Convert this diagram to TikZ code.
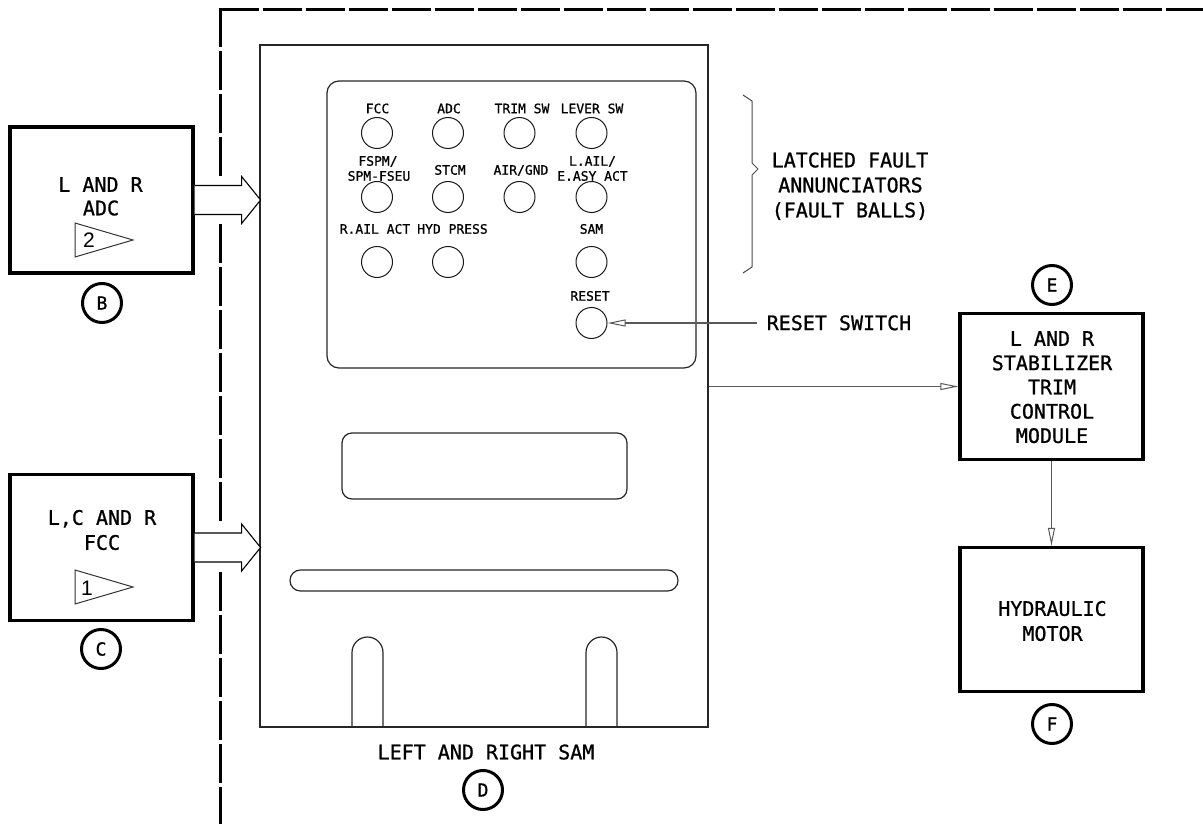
\documentclass[tikz,border=0pt]{standalone}
\usepackage{fontspec}
\setmainfont{DejaVu Sans Mono}[FakeBold=0.9]
\newfontfamily\numfont{Liberation Sans}
\usetikzlibrary{arrows.meta,calc}
\begin{document}
\begin{tikzpicture}[x=1pt,y=-1pt,
 box/.style={draw=black, line width=3.2pt, minimum width=183pt, inner sep=0pt},
 big/.style={font=\fontsize{20}{24}\selectfont, inner sep=0pt, anchor=base},
 small/.style={font=\fontsize{13}{15}\selectfont, inner sep=0pt, anchor=base},
 ball/.style={draw=black!90, circle, minimum size=31pt, inner sep=0pt, line width=1pt},
 refc/.style={draw=black, circle, line width=3pt, minimum size=39pt, inner sep=0pt, font=\fontsize{18}{18}\selectfont},
 outline/.style={draw=black!85, line width=1.2pt},
 conn/.style={draw=black!65, line width=1.1pt, -{Triangle[open, length=18pt, width=7pt, line width=1pt]}},
 hollow/.style={draw=black, line width=1.1pt, fill=white, line join=miter},
 flag/.style={draw=black!80, line width=1pt},
 border/.style={line width=3pt, dash pattern=on 39pt off 4pt},
]
\useasboundingbox (0,0) rectangle (1203,824);

% dashed boundary
\draw[border] (220,10) -- (1203,10);
\draw[border] (220,8.5) -- (220,178) (220,224) -- (220,524) (220,572) -- (220,824);

% SAM unit
\node[outline, minimum width=448pt, minimum height=682pt, inner sep=0pt] (sam) at (484,386) {};
\node[outline, rounded corners=12pt, minimum width=369pt, minimum height=287pt, inner sep=0pt] (panel) at (511.5,224.5) {};
\node[outline, rounded corners=10pt, minimum width=285pt, minimum height=66pt, inner sep=0pt] (display) at (484.5,466) {};
\node[outline, rounded corners=10.4pt, minimum width=388pt, minimum height=21pt, inner sep=0pt] (slot) at (484,580.5) {};
\draw[outline] (352,727) -- (352,652.5) arc[start angle=180, end angle=360, radius=15.5] -- (383,727);
\draw[outline] (586,727) -- (586,652.5) arc[start angle=180, end angle=360, radius=15.5] -- (617,727);

% fault balls
\node[ball] (bfcc) at (377,133) {};
\node[ball] (badc) at (448,133) {};
\node[ball] (btrim) at (519.5,133) {};
\node[ball] (blever) at (591.5,133) {};
\node[ball] (bfspm) at (377,197) {};
\node[ball] (bstcm) at (448,197) {};
\node[ball] (bair) at (519.5,197) {};
\node[ball] (blail) at (591.5,197) {};
\node[ball] (brail) at (377,262) {};
\node[ball] (bhyd) at (448,262) {};
\node[ball] (bsam) at (591.5,262) {};
\node[ball] (reset) at (591.5,323) {};

\node[small] (lfcc) at (377.5,113.2) {FCC};
\node[small] (ladc) at (449,113.2) {ADC};
\node[small] (ltrim) at (522,113.2) {TRIM SW};
\node[small] (llever) at (592,113.2) {LEVER SW};
\node[small] (lfspm1) at (378,165.7) {FSPM/};
\node[small] (lfspm2) at (379,180.7) {SPM-FSEU};
\node[small] (lstcm) at (450,174.7) {STCM};
\node[small] (lair) at (521,174.7) {AIR/GND};
\node[small] (llail1) at (592.5,165.7) {L.AIL/};
\node[small] (llail2) at (592.5,180.7) {E.ASY ACT};
\node[small] (lrail) at (375,233.7) {R.AIL ACT};
\node[small] (lhyd) at (452.5,233.7) {HYD PRESS};
\node[small] (lsam) at (591.5,233.7) {SAM};
\node[small] (lreset) at (590,300.7) {RESET};

\node[big] (samlbl) at (486,759.3) {LEFT AND RIGHT SAM};
\node[refc] (D) at (483,790) {D};

% brace and annunciator text
\draw[draw=black!70, line width=1pt] (743,95) -- (752,101) -- (752,163) -- (758,169) -- (752,175) -- (752,267) -- (743,273);
\node[big] (lf1) at (850,167.3) {LATCHED FAULT};
\node[big] (lf2) at (850.5,192.3) {ANNUNCIATORS};
\node[big] (lf3) at (850,217.3) {(FAULT BALLS)};

% reset switch
\node[big] (rsw) at (839,330.1) {RESET SWITCH};
\coordinate (rswend) at (757,323);
\draw[conn] (rswend) -- (reset.east);

% ADC box
\node[box, minimum height=146pt] (adcbox) at (101.5,200) {};
\node[big] (adc1) at (100.5,191.8) {L AND R};
\node[big] (adc2) at (101,215.3) {ADC};
\draw[flag] (75,223) -- (75,257) -- (133,240) -- cycle;
\node[font=\numfont\fontsize{21}{21}\selectfont, inner sep=0pt] (n2) at (89,240) {2};
\node[refc] (B) at (102,303) {B};
\draw[hollow] ($(adcbox.east)+(0,-14.5)$) -- ($(adcbox.east)+(47,-14.5)$) -- ($(adcbox.east)+(47,-23.5)$) -- ($(adcbox.east)+(66,0)$) -- ($(adcbox.east)+(47,23.5)$) -- ($(adcbox.east)+(47,14.5)$) -- ($(adcbox.east)+(0,14.5)$);

% FCC box
\node[box, minimum height=146pt] (fccbox) at (101.5,547.5) {};
\node[big] (fcc1) at (102,524.8) {L,C AND R};
\node[big] (fcc2) at (102,549.8) {FCC};
\draw[flag] (75,570) -- (75,604) -- (133,587) -- cycle;
\node[font=\numfont\fontsize{21}{21}\selectfont, inner sep=0pt] (n1) at (87,588) {1};
\node[refc] (C) at (101,649) {C};
\draw[hollow] ($(fccbox.east)+(0,-14.5)$) -- ($(fccbox.east)+(47,-14.5)$) -- ($(fccbox.east)+(47,-23.5)$) -- ($(fccbox.east)+(66,0)$) -- ($(fccbox.east)+(47,23.5)$) -- ($(fccbox.east)+(47,14.5)$) -- ($(fccbox.east)+(0,14.5)$);

% stabilizer trim control module
\node[refc] (E) at (1052,285) {E};
\node[box, minimum height=146pt] (stcm) at (1051.5,386.5) {};
\node[big] (st1) at (1052,345.8) {L AND R};
\node[big] (st2) at (1052,370.1) {STABILIZER};
\node[big] (st3) at (1052,394.3) {TRIM};
\node[big] (st4) at (1052,418.6) {CONTROL};
\node[big] (st5) at (1052,442.9) {MODULE};

% hydraulic motor
\node[box, minimum height=144pt] (hyd) at (1051.5,619.5) {};
\node[big] (hy1) at (1052.5,615.8) {HYDRAULIC};
\node[big] (hy2) at (1052.5,640.8) {MOTOR};
\node[refc] (F) at (1052,724) {F};

% connectors
\draw[conn] (sam.east |- stcm.west) -- (stcm.west);
\draw[conn] (stcm.south) -- (hyd.north);
\end{tikzpicture}
\end{document}
